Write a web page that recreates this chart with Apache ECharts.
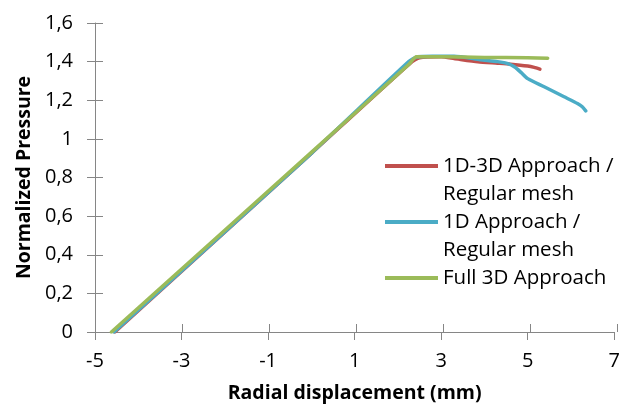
<!DOCTYPE html>
<html>
<head>
<meta charset="utf-8">
<script src="https://cdn.jsdelivr.net/npm/echarts@6/dist/echarts.min.js"></script>
<style>
  html, body { margin: 0; padding: 0; background: #fff; }
  #main { width: 623px; height: 411px; }
</style>
</head>
<body>
<div id="main"></div>
<script>
// series names + legend text (blank first line keeps the icon on the first text row)
const seriesNames = ['1D-3D Approach / Regular mesh', '1D Approach / Regular mesh', 'Full 3D Approach']
const legendText = [' \n1D-3D Approach /\nRegular mesh', ' \n1D Approach /\nRegular mesh', ' \nFull 3D Approach\n ']

// 1D-3D approach (red)
const redX = [-4.54, 0, 2.3, 2.5, 3.0, 3.3, 3.85, 4.3, 4.6, 5.0, 5.15, 5.28]
const redY = [0, 0.925, 1.395, 1.42, 1.425, 1.416, 1.399, 1.392, 1.387, 1.377, 1.37, 1.361]

// 1D approach (blue)
const blueX = [-4.56, 0, 2.25, 2.45, 2.8, 3.3, 3.9, 4.3, 4.54, 4.7, 4.85, 5.0, 5.38, 5.84, 6.15, 6.26, 6.34]
const blueY = [0, 0.925, 1.40, 1.425, 1.428, 1.428, 1.41, 1.40, 1.39, 1.372, 1.343, 1.312, 1.27, 1.218, 1.183, 1.166, 1.145]

// full 3D approach (green)
const greenX = [-4.62, 0, 2.25, 2.43, 3.0, 4.0, 5.0, 5.46]
const greenY = [0, 0.93, 1.385, 1.425, 1.425, 1.422, 1.42, 1.418]

const colors = ['#C0504D', '#4BACC6', '#9BBB59']
const font = '"Open Sans", Lato, sans-serif'

function pairs (xs, ys) {
  return xs.map((x, i) => [x, ys[i]])
}

const chart = echarts.init(document.getElementById('main'))

const axisGrey = '#868686'
const gridBox = { left: 95, right: 6, top: 23, bottom: 79 }
const xBase = { type: 'value', min: -5, max: 7, interval: 2 }
const yBase = { type: 'value', min: 0, max: 1.6, interval: 0.2 }
// second grid only carries the inward half of the crossing ticks
const innerTicks = {
  axisLine: { show: false, onZero: false },
  axisTick: { show: true, inside: true, length: 8, lineStyle: { color: axisGrey } },
  axisLabel: { show: false },
  splitLine: { show: false }
}

let option = {
  animation: false,
  color: colors,
  grid: [Object.assign({}, gridBox), Object.assign({}, gridBox)],
  legend: {
    orient: 'vertical',
    left: 385,
    top: 124,
    padding: 0,
    itemWidth: 53,
    itemHeight: 4,
    itemGap: -28,
    icon: 'rect',
    data: seriesNames,
    formatter: name => legendText[seriesNames.indexOf(name)],
    textStyle: {
      fontFamily: font,
      fontSize: 20.5,
      color: '#000',
      lineHeight: 28
    }
  },
  xAxis: [
    Object.assign({}, xBase, {
      gridIndex: 0,
      name: 'Radial displacement (mm)',
      nameLocation: 'middle',
      nameGap: 51,
      nameTextStyle: { fontFamily: font, fontSize: 19.5, fontWeight: 'bold', color: '#000' },
      axisLine: { show: true, onZero: false, lineStyle: { color: axisGrey, width: 1 } },
      axisTick: { show: true, length: 8, lineStyle: { color: axisGrey } },
      axisLabel: { margin: 19, fontFamily: font, fontSize: 20, color: '#000' },
      splitLine: { show: false }
    }),
    Object.assign({}, xBase, { gridIndex: 1, position: 'bottom' }, innerTicks)
  ],
  yAxis: [
    Object.assign({}, yBase, {
      gridIndex: 0,
      name: 'Normalized Pressure',
      nameLocation: 'middle',
      nameGap: 61,
      nameTextStyle: { fontFamily: font, fontSize: 19.5, fontWeight: 'bold', color: '#000' },
      axisLine: { show: true, onZero: false, lineStyle: { color: axisGrey, width: 1 } },
      axisTick: { show: true, length: 8, lineStyle: { color: axisGrey } },
      axisLabel: {
        margin: 22,
        fontFamily: font,
        fontSize: 20,
        color: '#000',
        formatter: v => String(Math.round(v * 10) / 10).replace('.', ',')
      },
      splitLine: { show: false }
    }),
    Object.assign({}, yBase, { gridIndex: 1, position: 'left' }, innerTicks)
  ],
  series: [
    { name: seriesNames[0], data: pairs(redX, redY) },
    { name: seriesNames[1], data: pairs(blueX, blueY) },
    { name: seriesNames[2], data: pairs(greenX, greenY) }
  ].map(s => Object.assign(s, {
    type: 'line',
    xAxisIndex: 0,
    yAxisIndex: 0,
    showSymbol: false,
    smooth: 0.2,
    lineStyle: { width: 3.5, cap: 'round', join: 'round' }
  }))
}

chart.setOption(option)
</script>
</body>
</html>
